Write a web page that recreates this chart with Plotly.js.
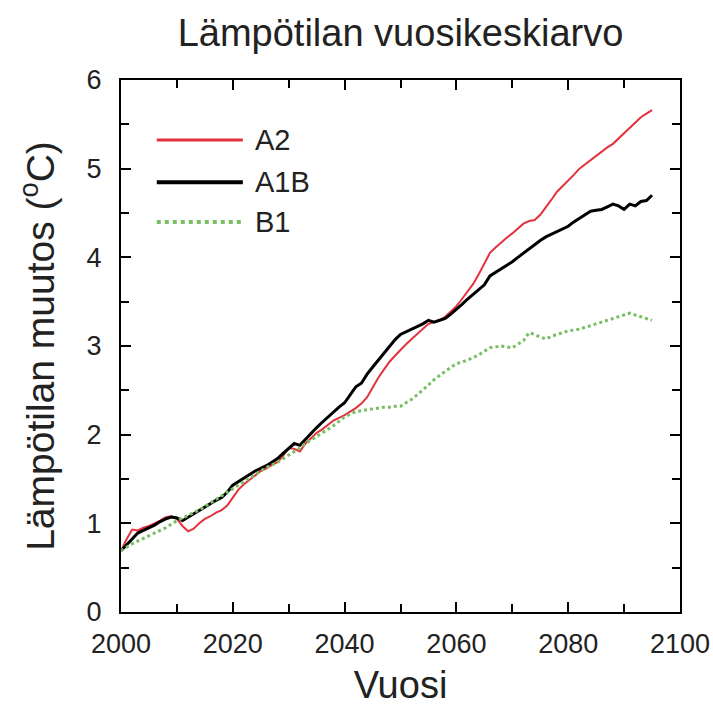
<!DOCTYPE html>
<html>
<head>
<meta charset="utf-8">
<script src="https://cdn.plot.ly/plotly-3.0.1.min.js"></script>
<style>html,body{margin:0;padding:0;background:#fff;}</style>
</head>
<body>
<div id="chart" style="width:713px;height:706px;"></div>
<script>
const years = [];
for (let y = 2000; y <= 2095; y++) years.push(y);

const seriesNames = ["A2", "A1B", "B1"];

const a2 = [0.69,0.82,0.93,0.92,0.95,0.97,1.00,1.03,1.07,1.08,
  1.05,0.97,0.91,0.94,1.00,1.05,1.08,1.12,1.15,1.20,
  1.29,1.38,1.44,1.49,1.55,1.59,1.62,1.66,1.69,1.76,
  1.85,1.84,1.81,1.90,1.96,2.02,2.06,2.11,2.16,2.19,
  2.22,2.26,2.30,2.35,2.42,2.53,2.64,2.73,2.82,2.89,
  2.96,3.02,3.08,3.14,3.20,3.25,3.27,3.29,3.33,3.39,
  3.45,3.53,3.61,3.70,3.81,3.93,4.05,4.11,4.17,4.22,
  4.27,4.33,4.38,4.41,4.42,4.48,4.56,4.65,4.74,4.80,
  4.86,4.93,5.00,5.05,5.10,5.15,5.20,5.24,5.28,5.34,
  5.40,5.46,5.52,5.58,5.62,5.66];

const a1b = [0.69,0.76,0.83,0.89,0.92,0.95,0.98,1.02,1.05,1.07,
  1.06,1.03,1.07,1.11,1.15,1.19,1.22,1.26,1.29,1.35,
  1.43,1.47,1.51,1.55,1.59,1.62,1.65,1.69,1.73,1.79,
  1.85,1.90,1.88,1.95,2.02,2.08,2.14,2.20,2.26,2.31,
  2.36,2.45,2.54,2.58,2.68,2.76,2.84,2.92,3.00,3.07,
  3.13,3.16,3.19,3.22,3.25,3.29,3.27,3.29,3.31,3.36,
  3.41,3.47,3.53,3.58,3.63,3.69,3.79,3.83,3.87,3.91,
  3.95,4.00,4.05,4.10,4.15,4.19,4.23,4.26,4.29,4.32,
  4.35,4.40,4.44,4.48,4.52,4.53,4.54,4.57,4.60,4.58,
  4.54,4.60,4.58,4.63,4.64,4.70];

const b1 = [0.69,0.73,0.77,0.80,0.83,0.86,0.89,0.92,0.95,0.99,
  1.03,1.06,1.09,1.12,1.15,1.19,1.23,1.27,1.31,1.35,
  1.39,1.43,1.47,1.51,1.55,1.59,1.63,1.66,1.69,1.73,
  1.77,1.81,1.85,1.90,1.94,1.98,2.02,2.06,2.10,2.15,
  2.20,2.23,2.26,2.27,2.28,2.29,2.30,2.31,2.31,2.32,
  2.32,2.36,2.40,2.45,2.50,2.56,2.62,2.67,2.72,2.76,
  2.80,2.82,2.84,2.87,2.90,2.94,2.98,2.99,3.00,2.99,
  2.98,3.02,3.06,3.15,3.13,3.10,3.08,3.11,3.13,3.15,
  3.17,3.18,3.19,3.21,3.23,3.25,3.27,3.29,3.31,3.33,
  3.35,3.37,3.35,3.33,3.31,3.29];

const seriesValues = [a2, a1b, b1];
const seriesColors = ["#e3323c", "#000000", "#78bf63"];
const seriesWidths = [2, 3, 3];
const seriesDash = ["solid", "solid", "dot"];

const xTickVals = [2000, 2020, 2040, 2060, 2080, 2100];
const xTickText = ["2000", "2020", "2040", "2060", "2080", "2100"];
const yTickVals = [0, 1, 2, 3, 4, 5, 6];
const yTickText = ["0", "1", "2", "3", "4", "5", "6"];

const titleText = "Lämpötilan vuosikeskiarvo";
const xTitle = "Vuosi";
const yTitle = "Lämpötilan muutos (<sup>o</sup>C)";

const FONT = "Liberation Sans, Arial, sans-serif";
const TXT = "#222222";

const traces = seriesNames.map((n, i) => ({
  type: "scatter", mode: "lines", name: n,
  x: years, y: seriesValues[i],
  line: {color: seriesColors[i], width: seriesWidths[i], dash: seriesDash[i]},
  showlegend: false
}));

// custom legend (long sample lines as in the reference)
const legendY = [0.887, 0.808, 0.733];
const shapes = [];
const annotations = [];
seriesNames.forEach((n, i) => {
  shapes.push({type: "line", xref: "paper", yref: "paper",
    x0: 0.064, x1: 0.218, y0: legendY[i], y1: legendY[i],
    line: {color: seriesColors[i], width: seriesWidths[i] + 1, dash: seriesDash[i]}});
  annotations.push({xref: "paper", yref: "paper", x: 0.236, y: legendY[i],
    xanchor: "left", yanchor: "middle", showarrow: false, text: n,
    font: {family: FONT, size: 29, color: TXT}});
});

const axisCommon = {
  showline: true, linecolor: "#000", linewidth: 2, mirror: "allticks",
  ticks: "inside", tickcolor: "#000", tickwidth: 2, ticklen: 10,
  showgrid: false, zeroline: false,
  tickfont: {family: FONT, size: 27, color: TXT}
};

const layout = {
  width: 713, height: 706,
  margin: {l: 121, r: 33, t: 80, b: 94},
  paper_bgcolor: "#fff", plot_bgcolor: "#fff",
  title: {text: titleText, x: 0.5, xref: "paper", y: 1 - 33/706, yref: "container",
    yanchor: "middle", font: {family: FONT, size: 38, color: TXT}},
  xaxis: Object.assign({}, axisCommon, {
    range: [2000, 2100], tickmode: "array", tickvals: xTickVals, ticktext: xTickText,
    minor: {dtick: 10, tick0: 2000, ticks: "inside", ticklen: 8, tickwidth: 2, tickcolor: "#000"},
    ticklabelstandoff: 7,
    title: {text: xTitle, standoff: 15, font: {family: FONT, size: 38, color: TXT}},
    automargin: false
  }),
  yaxis: Object.assign({}, axisCommon, {
    range: [0, 6], tickmode: "array", tickvals: yTickVals, ticktext: yTickText,
    minor: {dtick: 0.5, tick0: 0, ticks: "inside", ticklen: 8, tickwidth: 2, tickcolor: "#000"},
    ticklabelstandoff: 12,
    title: {text: yTitle, standoff: 20, font: {family: FONT, size: 39, color: TXT}},
    automargin: false
  }),
  shapes: shapes,
  annotations: annotations
};

Plotly.newPlot("chart", traces, layout, {displayModeBar: false, staticPlot: true});
</script>
</body>
</html>
